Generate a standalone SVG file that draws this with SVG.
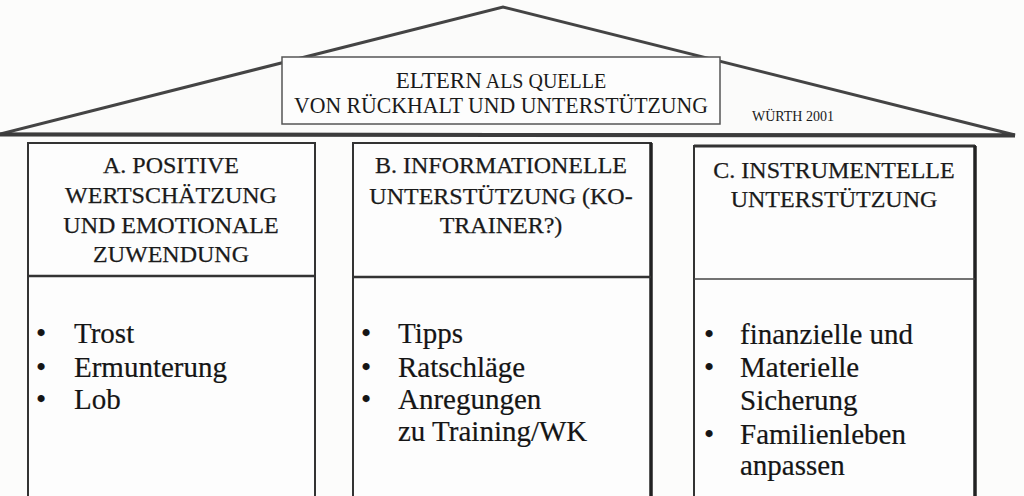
<svg xmlns="http://www.w3.org/2000/svg" width="1024" height="496" viewBox="0 0 1024 496">
<style>
.bg{fill:#fcfcfb}
.box{fill:#fdfdfd;stroke:#333;stroke-width:2}
.hd{font-family:"Liberation Serif","Times New Roman",serif;font-size:24px;fill:#1a1a1a;stroke:#1a1a1a;stroke-width:0.25;text-anchor:middle}
.bd{font-family:"Liberation Serif","Times New Roman",serif;font-size:29px;fill:#151515;stroke:#151515;stroke-width:0.2}
.tt{font-family:"Liberation Serif","Times New Roman",serif;fill:#1a1a1a;text-anchor:middle}
</style>
<rect class="bg" x="0" y="0" width="1024" height="496"/>
<g id="roof">
<polygon points="0,134 503,7 1015,135" fill="#fbfbfa" stroke="#444" stroke-width="3" stroke-linejoin="miter"/>
<line x1="0" y1="134.5" x2="1015" y2="135.5" stroke="#3c3c3c" stroke-width="4"/>
</g>
<g id="title">
<rect x="282" y="57" width="438" height="67" fill="#fdfdfd" stroke="#555" stroke-width="1.5"/>
<text class="tt" x="501" y="88" font-size="23"><tspan>ELTERN</tspan><tspan font-size="20"> ALS QUELLE</tspan></text>
<text class="tt" x="501" y="113" font-size="23" textLength="414" lengthAdjust="spacingAndGlyphs">VON RÜCKHALT  UND UNTERSTÜTZUNG</text>
<text x="752" y="121" font-family="Liberation Serif,serif" font-size="14" fill="#1a1a1a">WÜRTH 2001</text>
</g>
<g id="pillar-a">
<rect class="box" x="28" y="143" width="287" height="360"/>
<line x1="28" y1="276" x2="315" y2="276" stroke="#333" stroke-width="2.5"/>
<text class="hd" x="171" y="173">A. POSITIVE</text>
<text class="hd" x="171" y="203">WERTSCHÄTZUNG</text>
<text class="hd" x="171" y="233">UND EMOTIONALE</text>
<text class="hd" x="171" y="262">ZUWENDUNG</text>
<text class="bd" x="36" y="343">•</text><text class="bd" x="74" y="343">Trost</text>
<text class="bd" x="36" y="377">•</text><text class="bd" x="74" y="377">Ermunterung</text>
<text class="bd" x="36" y="409">•</text><text class="bd" x="74" y="409">Lob</text>
</g>
<g id="pillar-b">
<rect class="box" x="353" y="143" width="298" height="360"/>
<line x1="651" y1="143" x2="651" y2="496" stroke="#222" stroke-width="3.5"/>
<line x1="353" y1="277" x2="651" y2="277" stroke="#333" stroke-width="2.5"/>
<text class="hd" x="501" y="173">B. INFORMATIONELLE</text>
<text class="hd" x="501" y="204">UNTERSTÜTZUNG (KO-</text>
<text class="hd" x="501" y="233">TRAINER?)</text>
<text class="bd" x="361" y="343">•</text><text class="bd" x="398" y="343">Tipps</text>
<text class="bd" x="361" y="377">•</text><text class="bd" x="398" y="377">Ratschläge</text>
<text class="bd" x="361" y="409">•</text><text class="bd" x="398" y="409">Anregungen</text>
<text class="bd" x="398" y="441">zu Training/WK</text>
</g>
<g id="pillar-c">
<rect class="box" x="694" y="146" width="281" height="360"/>
<line x1="694" y1="146" x2="975" y2="146" stroke="#333" stroke-width="3"/>
<line x1="975" y1="146" x2="975" y2="496" stroke="#222" stroke-width="3.5"/>
<line x1="694" y1="279" x2="975" y2="279" stroke="#444" stroke-width="1.5"/>
<text class="hd" x="834" y="178">C. INSTRUMENTELLE</text>
<text class="hd" x="834" y="207">UNTERSTÜTZUNG</text>
<text class="bd" x="704" y="344">•</text><text class="bd" x="740" y="344">finanzielle und</text>
<text class="bd" x="704" y="377">•</text><text class="bd" x="740" y="377">Materielle</text>
<text class="bd" x="740" y="410">Sicherung</text>
<text class="bd" x="704" y="444">•</text><text class="bd" x="740" y="444">Familienleben</text>
<text class="bd" x="740" y="475">anpassen</text>
</g>
</svg>
